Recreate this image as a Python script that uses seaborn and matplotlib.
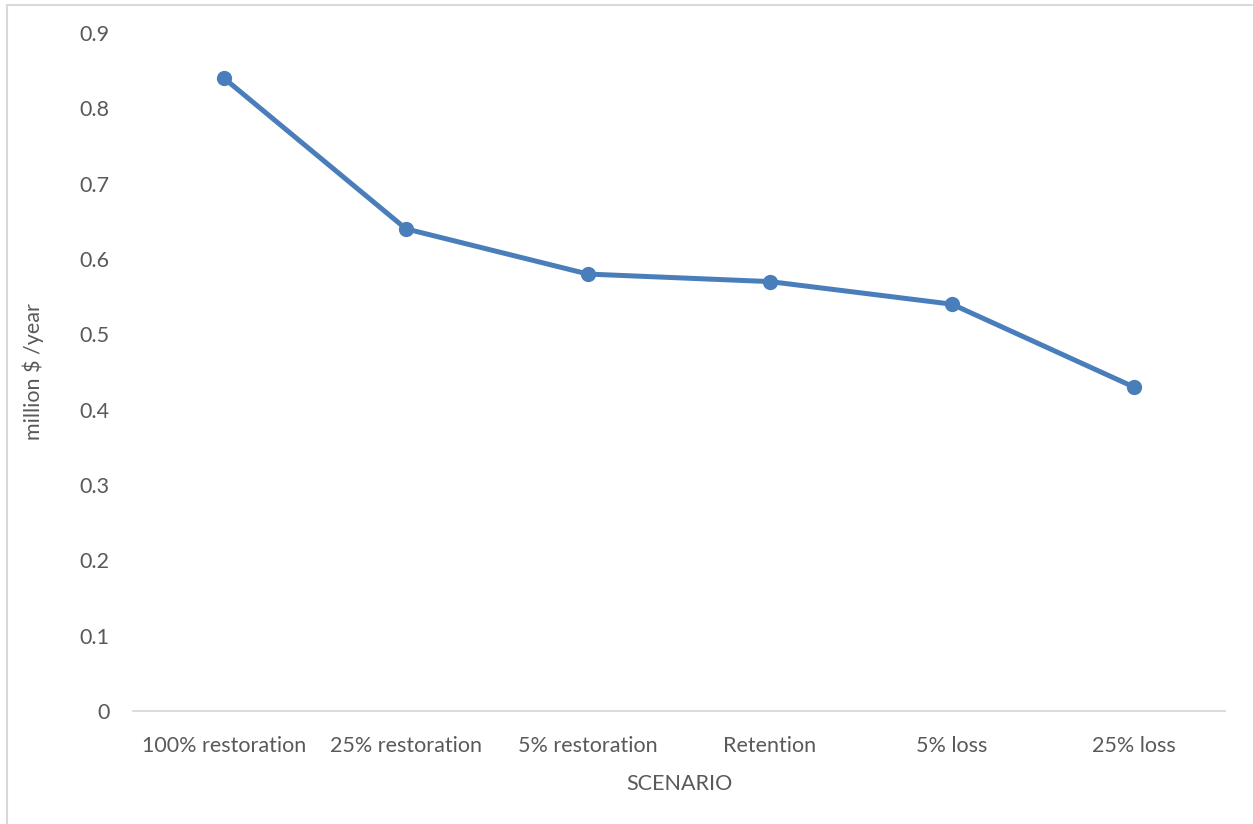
import matplotlib
matplotlib.use("Agg")
import matplotlib.pyplot as plt
from matplotlib.lines import Line2D
import seaborn as sns
import pandas as pd

scenarios = ["100% restoration", "25% restoration", "5% restoration",
             "Retention", "5% loss", "25% loss"]
values = [0.84, 0.64, 0.58, 0.57, 0.54, 0.43]
y_ticks = [0, 0.1, 0.2, 0.3, 0.4, 0.5, 0.6, 0.7, 0.8, 0.9]
y_tick_labels = ["0", "0.1", "0.2", "0.3", "0.4", "0.5", "0.6", "0.7", "0.8", "0.9"]

sns.set_theme(style="white")
plt.rcParams["font.family"] = ["Lato", "DejaVu Sans"]

text_color = "#595959"
line_color = "#4a7ebb"
fs = 15.5

df = pd.DataFrame({"scenario": scenarios, "value": values})

fig = plt.figure(figsize=(12.53, 8.24), dpi=100)
ax = fig.add_axes([133 / 1253, 1 - 711 / 824, (1225 - 133) / 1253, (711 - 33) / 824])

sns.lineplot(data=df, x="scenario", y="value", sort=False, ax=ax,
             color=line_color, linewidth=3.6, marker="o", markersize=11,
             markeredgewidth=0, markerfacecolor=line_color)

ax.set_xlim(-0.5, len(scenarios) - 0.5)
ax.set_ylim(0, 0.9)
ax.set_yticks(y_ticks)
ax.set_yticklabels(y_tick_labels)

for side in ["left", "right", "top"]:
    ax.spines[side].set_visible(False)
ax.spines["bottom"].set_color("#d9d9d9")
ax.spines["bottom"].set_linewidth(1.3)

ax.tick_params(axis="both", length=0, labelsize=fs, labelcolor=text_color)
ax.tick_params(axis="y", pad=17)
ax.tick_params(axis="x", pad=18)

ax.set_xlabel("SCENARIO", fontsize=fs, color=text_color, labelpad=13)
ax.set_ylabel("million $ /year", fontsize=fs, color=text_color)
ax.yaxis.set_label_coords(-0.0815, 0.5)

# light chart-area border
border = "#d9d9d9"
fig.add_artist(Line2D([7 / 1253, 7 / 1253], [0, 1 - 5 / 824], color=border, lw=1.5))
fig.add_artist(Line2D([7 / 1253, 1], [1 - 5 / 824, 1 - 5 / 824], color=border, lw=1.5))

fig.savefig("out.png", dpi=100, facecolor="white")
